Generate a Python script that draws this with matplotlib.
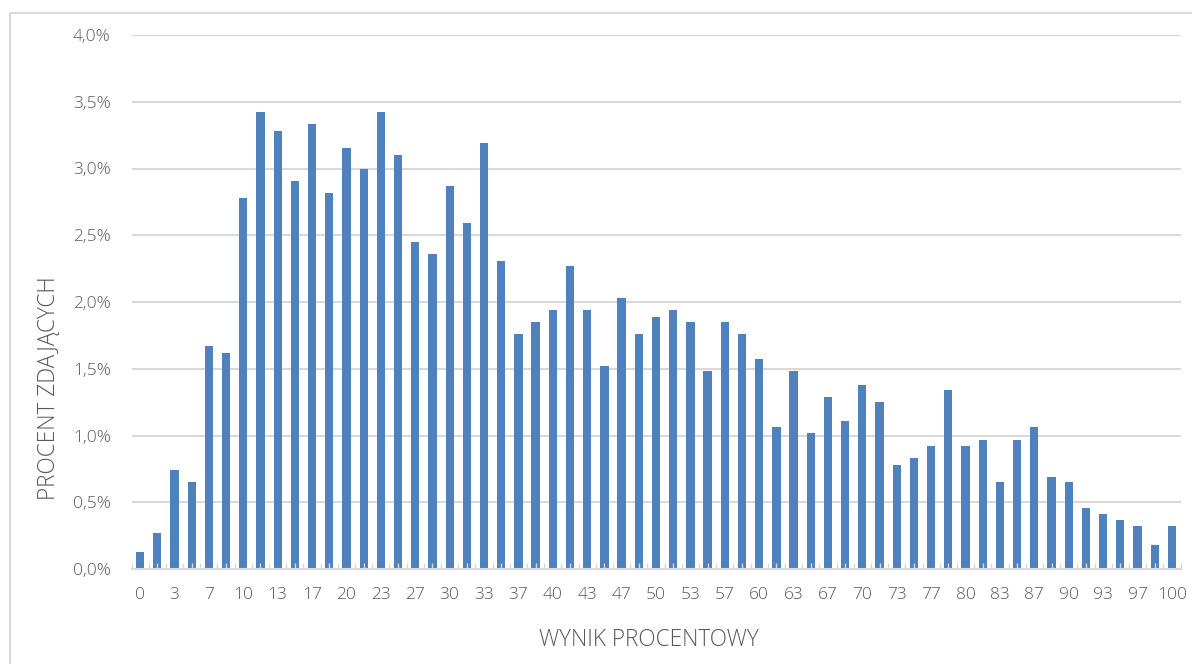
import numpy as np
import matplotlib
matplotlib.use("Agg")
import matplotlib.pyplot as plt
import matplotlib.patches as mpatches
from matplotlib.ticker import FuncFormatter

# score (percent, rounded) for each of the 61 possible results
scores = [0, 2, 3, 5, 7, 8, 10, 12, 13, 15, 17, 18, 20, 22, 23, 25, 27, 28, 30, 32,
          33, 35, 37, 38, 40, 42, 43, 45, 47, 48, 50, 52, 53, 55, 57, 58, 60, 62, 63, 65,
          67, 68, 70, 72, 73, 75, 77, 78, 80, 82, 83, 85, 87, 88, 90, 92, 93, 95, 97, 98, 100]

# share of candidates (%) per score
shares = [0.13, 0.27, 0.74, 0.65, 1.67, 1.62, 2.78, 3.42, 3.28, 2.91,
          3.33, 2.82, 3.15, 3.00, 3.42, 3.10, 2.45, 2.36, 2.87, 2.59,
          3.19, 2.31, 1.76, 1.85, 1.94, 2.27, 1.94, 1.52, 2.03, 1.76,
          1.89, 1.94, 1.85, 1.48, 1.85, 1.76, 1.57, 1.06, 1.48, 1.02,
          1.29, 1.11, 1.38, 1.25, 0.78, 0.83, 0.92, 1.34, 0.92, 0.97,
          0.65, 0.97, 1.06, 0.69, 0.65, 0.46, 0.41, 0.37, 0.32, 0.18, 0.32]

y_ticks = [0.0, 0.5, 1.0, 1.5, 2.0, 2.5, 3.0, 3.5, 4.0]

BAR = "#4f81bd"
GRID = "#d9d9d9"
TEXT = "#595959"
FONT = ["Open Sans", "DejaVu Sans"]

plt.rcParams["font.family"] = FONT

W, H = 1192, 664
fig = plt.figure(figsize=(W / 100, H / 100), dpi=100)
ax = fig.add_axes([131.5 / W, 95 / H, 1049 / W, 534 / H])

x = np.arange(len(shares))
ax.bar(x, shares, width=0.48, color=BAR, zorder=1)

ax.set_xlim(-0.5, len(shares) - 0.5)
ax.set_ylim(0, 4.0)

# gridlines behind bars, axis (ticks) above bars
for yv in y_ticks[1:]:
    ax.axhline(yv, color=GRID, lw=1.5, zorder=0)
ax.set_axisbelow(False)

ax.set_yticks(y_ticks)
ax.yaxis.set_major_formatter(FuncFormatter(lambda v, p: f"{v:.1f}%".replace(".", ",")))
ax.tick_params(axis="y", length=0, pad=15, labelsize=12.5, labelcolor=TEXT)

ax.set_xticks(x[::2])
ax.set_xticklabels([str(s) for s in scores[::2]])
ax.set_xticks(np.arange(-0.5, len(shares), 0.5), minor=True)
ax.tick_params(axis="x", which="major", length=0, pad=13, labelsize=12.5, labelcolor=TEXT)
ax.tick_params(axis="x", which="minor", direction="in", length=4, width=1, color=GRID)

for side in ["top", "right", "left"]:
    ax.spines[side].set_visible(False)
ax.spines["bottom"].set_color(GRID)
ax.spines["bottom"].set_linewidth(1.5)

for lab in ax.get_xticklabels() + ax.get_yticklabels():
    lab.set_fontweight("light")

# axis titles placed like in the original sheet chart
fig.text(649 / W, 1 - 640 / H, "WYNIK PROCENTOWY", fontsize=16.3, color=TEXT,
         fontweight="light", ha="center", va="center")
fig.text(49 / W, 1 - 388 / H, "PROCENT ZDAJĄCYCH", fontsize=16.3, color=TEXT,
         fontweight="light", ha="center", va="center", rotation=90)

# outer chart frame
fig.patches.append(mpatches.Rectangle((10 / W, -0.1), 1.2, 1.1 - 13 / H, transform=fig.transFigure,
                                      fill=False, edgecolor=GRID, lw=1.5))

fig.savefig("out.png", dpi=100)
